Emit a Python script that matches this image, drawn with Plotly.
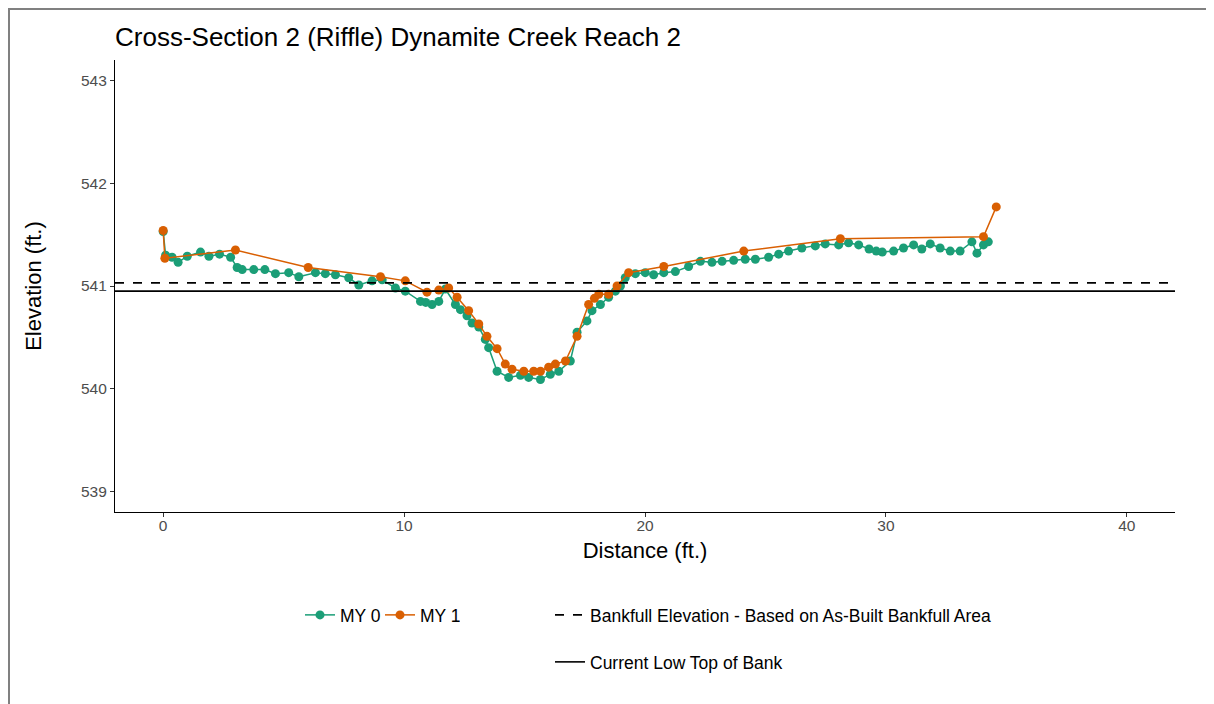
import plotly.graph_objects as go

# ---- data ----
my0_dist = [0.0, 0.1, 0.37, 0.62, 1.0, 1.55, 1.9, 2.34, 2.8, 3.07, 3.28, 3.76, 4.22, 4.66, 5.21, 5.63,
            6.32, 6.73, 7.15, 7.7, 8.12, 8.67, 9.09, 9.64, 10.05, 10.68, 10.9, 11.16, 11.44, 11.71,
            12.13, 12.34, 12.61, 12.82, 13.1, 13.37, 13.51, 13.86, 14.34, 14.83, 15.17, 15.66, 16.07,
            16.42, 16.9, 17.18, 17.59, 17.8, 18.15, 18.49, 18.77, 18.98, 19.18, 19.6, 20.01, 20.36,
            20.78, 21.26, 21.81, 22.3, 22.78, 23.2, 23.68, 24.16, 24.58, 25.13, 25.55, 25.96, 26.51,
            27.07, 27.48, 28.04, 28.45, 28.87, 29.3, 29.6, 29.85, 30.32, 30.73, 31.15, 31.49, 31.84,
            32.25, 32.67, 33.08, 33.57, 33.78, 34.05, 34.25]
my0_elev = [541.53, 541.30, 541.28, 541.23, 541.29, 541.33, 541.29, 541.31, 541.28, 541.18, 541.16,
            541.16, 541.16, 541.12, 541.13, 541.09, 541.13, 541.12, 541.11, 541.08, 541.01, 541.05,
            541.06, 540.98, 540.95, 540.85, 540.84, 540.82, 540.85, 540.97, 540.82, 540.77, 540.71,
            540.64, 540.60, 540.48, 540.40, 540.17, 540.11, 540.13, 540.11, 540.09, 540.14, 540.17,
            540.27, 540.55, 540.66, 540.76, 540.82, 540.89, 540.95, 541.00, 541.08, 541.12, 541.13,
            541.11, 541.13, 541.14, 541.19, 541.24, 541.23, 541.24, 541.25, 541.26, 541.26, 541.28,
            541.31, 541.34, 541.37, 541.39, 541.41, 541.40, 541.42, 541.40, 541.36, 541.34, 541.33,
            541.34, 541.37, 541.40, 541.36, 541.41, 541.37, 541.34, 541.34, 541.43, 541.32, 541.40,
            541.43]

my1_dist = [0.0, 0.07, 3.0, 6.02, 9.02, 10.05, 10.95, 11.44, 11.85, 12.2, 12.68, 13.1, 13.44, 13.86,
            14.2, 14.48, 14.97, 15.38, 15.66, 16.0, 16.28, 16.7, 17.18, 17.66, 17.9, 18.08, 18.49,
            18.84, 19.32, 20.78, 24.1, 28.11, 34.05, 34.58]
my1_elev = [541.54, 541.27, 541.35, 541.18, 541.09, 541.05, 540.94, 540.96, 540.98, 540.89, 540.76,
            540.63, 540.51, 540.39, 540.24, 540.19, 540.17, 540.17, 540.17, 540.21, 540.24, 540.27,
            540.51, 540.82, 540.88, 540.92, 540.92, 541.00, 541.13, 541.19, 541.34, 541.46, 541.48,
            541.77]

bankfull_elev = 541.03
low_top_of_bank = 540.95

x_ticks = [0, 10, 20, 30, 40]
y_ticks = [539, 540, 541, 542, 543]
x_range = [-2, 42]
y_range = [538.8, 543.2]

GREEN = "#1B9E77"
ORANGE = "#D95F02"
FONT = "Liberation Sans"

fig = go.Figure()

fig.add_trace(go.Scatter(x=my0_dist, y=my0_elev, mode="lines+markers", name="MY 0",
                         line=dict(color=GREEN, width=1.5), marker=dict(color=GREEN, size=9),
                         legend="legend"))
fig.add_trace(go.Scatter(x=my1_dist, y=my1_elev, mode="lines+markers", name="MY 1",
                         line=dict(color=ORANGE, width=1.5), marker=dict(color=ORANGE, size=9),
                         legend="legend"))
fig.add_trace(go.Scatter(x=x_range, y=[bankfull_elev, bankfull_elev], mode="lines",
                         name="Bankfull Elevation - Based on As-Built Bankfull Area",
                         line=dict(color="black", width=1.6, dash="dash"), legend="legend2"))
fig.add_trace(go.Scatter(x=x_range, y=[low_top_of_bank, low_top_of_bank], mode="lines",
                         name="Current Low Top of Bank",
                         line=dict(color="black", width=1.6), legend="legend3"))

# page body has an 8px margin: compensate so the plot lands where the reference has it
OFF = 8
W, H = 1214 - OFF, 704 - OFF
# plot area in screen px: x 115..1175, y 60..512
L, R, T, B = 115 - OFF, 1214 - 1175, 60 - OFF, 704 - 512
pw, ph = W - L - R, H - T - B

def px(s):
    return (s - OFF - L) / pw

def py(s):
    return (H - B - (s - OFF)) / ph

axis_common = dict(showgrid=False, zeroline=False, showline=True, linecolor="black", linewidth=1.2,
                   ticks="outside", ticklen=4, tickcolor="#333333",
                   tickfont=dict(family=FONT, size=15.5, color="#4d4d4d"))

legend_font = dict(family=FONT, size=17.5, color="black")

fig.update_layout(
    width=W, height=H,
    margin=dict(l=L, r=R, t=T, b=B),
    paper_bgcolor="white", plot_bgcolor="white",
    font=dict(family=FONT, color="black"),
    title=dict(text="Cross-Section 2 (Riffle) Dynamite Creek Reach 2", x=0, xref="paper",
               xanchor="left", y=1 - (37 - OFF) / H, yref="container", yanchor="middle",
               font=dict(family=FONT, size=26, color="black")),
    xaxis=dict(range=x_range, tickvals=x_ticks, ticklabelstandoff=-5,
               title=dict(text="Distance (ft.)", standoff=9, font=dict(family=FONT, size=22)),
               **axis_common),
    yaxis=dict(range=y_range, tickvals=y_ticks,
               title=dict(text="Elevation (ft.)", standoff=33, font=dict(family=FONT, size=22)),
               **axis_common),
    legend=dict(orientation="h", x=px(300), xanchor="left", y=py(615), yanchor="middle",
                font=legend_font, bgcolor="rgba(0,0,0,0)", entrywidth=35),
    legend2=dict(orientation="h", x=px(550), xanchor="left", y=py(615), yanchor="middle",
                 font=legend_font, bgcolor="rgba(0,0,0,0)"),
    legend3=dict(orientation="h", x=px(550), xanchor="left", y=py(662), yanchor="middle",
                 font=legend_font, bgcolor="rgba(0,0,0,0)"),
    showlegend=True,
)

# outer gray frame (top and left edges)
fig.add_shape(type="line", xref="paper", yref="paper", x0=px(OFF), x1=px(1214), y0=py(OFF + 1),
              y1=py(OFF + 1), line=dict(color="#808080", width=2))
fig.add_shape(type="line", xref="paper", yref="paper", x0=px(OFF + 1), x1=px(OFF + 1), y0=py(OFF),
              y1=py(704), line=dict(color="#808080", width=2))

fig.write_html("out.html")
